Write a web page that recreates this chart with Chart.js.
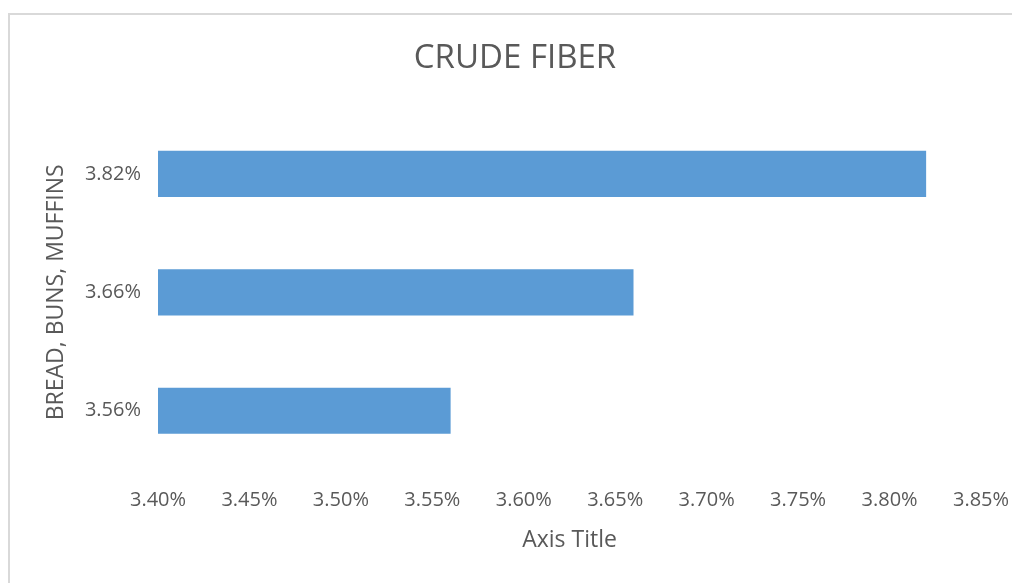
<!DOCTYPE html>
<html>
<head>
<meta charset="utf-8">
<script src="https://cdn.jsdelivr.net/npm/chart.js@4"></script>
<style>
  html, body { margin: 0; padding: 0; background: #fff; }
  #wrap { position: relative; width: 1012px; height: 583px; }
  /* frame lines of the pasted chart */
  #frame { position: absolute; left: 8px; top: 13px; right: 0; bottom: 0;
           border-top: 2px solid #d9d9d9; border-left: 2px solid #d9d9d9; }
  canvas { position: absolute; left: 0; top: 0; }
</style>
</head>
<body>
<div id="wrap">
  <div id="frame"></div>
  <canvas id="chart" width="1012" height="583"></canvas>
</div>
<script>
// ── Data ────────────────────────────────────────────────────
const CATEGORIES = ["3.82%", "3.66%", "3.56%"];
const VALUES = [3.82, 3.66, 3.56];
const X_MIN = 3.40;
const X_MAX = 3.85;
const X_STEP = 0.05;

const TEXT = "#595959";
const FONT = "'Open Sans', 'Noto Sans', sans-serif";

new Chart(document.getElementById("chart"), {
  type: "bar",
  data: {
    labels: CATEGORIES,
    datasets: [{
      label: "Crude fiber",
      data: VALUES,
      backgroundColor: "#5B9BD5",
      borderWidth: 0,
      categoryPercentage: 1,
      barPercentage: 0.39
    }]
  },
  options: {
    indexAxis: "y",
    responsive: false,
    animation: false,
    layout: { padding: { top: 0, right: 3, bottom: 20, left: 21 } },
    plugins: {
      legend: { display: false },
      tooltip: { enabled: false },
      title: {
        display: true,
        text: "CRUDE FIBER",
        color: TEXT,
        font: { family: FONT, size: 33, weight: "normal" },
        padding: { top: 39, bottom: 36 }
      }
    },
    scales: {
      x: {
        min: X_MIN, max: X_MAX,
        grid: { display: false, drawTicks: false },
        border: { display: false },
        ticks: {
          stepSize: X_STEP,
          color: TEXT,
          padding: 18,
          font: { family: FONT, size: 20 },
          callback: v => v.toFixed(2) + "%"
        },
        title: {
          display: true, text: "Axis Title", color: TEXT,
          font: { family: FONT, size: 23 },
          padding: { top: 4, bottom: 9 }
        },
        // fixed band under the plot; room on the right for the last label
        afterFit: s => { s.height = 93; s.paddingLeft = 0; s.paddingRight = 31; }
      },
      y: {
        grid: { display: false, drawTicks: false },
        border: { display: false },
        ticks: {
          color: TEXT,
          padding: 17,
          font: { family: FONT, size: 20 }
        },
        title: {
          display: true, text: "BREAD, BUNS, MUFFINS", color: TEXT,
          font: { family: FONT, size: 23 },
          padding: { top: 22, bottom: 4 }
        },
        afterFit: s => { s.width = 137; }
      }
    }
  }
});
</script>
</body>
</html>
